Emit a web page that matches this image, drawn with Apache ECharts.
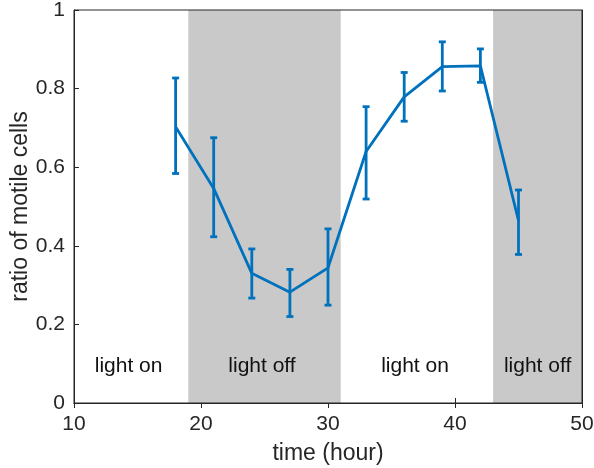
<!DOCTYPE html>
<html>
<head>
<meta charset="utf-8">
<script src="https://cdn.jsdelivr.net/npm/echarts@6/dist/echarts.min.js"></script>
<style>
  html, body { margin: 0; padding: 0; background: #fff; }
  #main { width: 594px; height: 468px; }
</style>
</head>
<body>
<div id="main"></div>
<script>
// time points (hour) and ratio of motile cells
const hours = [18, 21, 24, 27, 30, 33, 36, 39, 42, 45];
const ratio = [0.703, 0.546, 0.330, 0.282, 0.344, 0.640, 0.779, 0.856, 0.858, 0.464];
const errLow = [0.584, 0.423, 0.267, 0.220, 0.249, 0.519, 0.717, 0.794, 0.816, 0.378];
const errHigh = [0.827, 0.675, 0.392, 0.340, 0.443, 0.754, 0.841, 0.919, 0.901, 0.542];

// dark periods
const darkPeriods = [[19, 31], [43, 50]];

// period labels
const periodX = [14.3, 24.8, 36.85, 46.5];
const periodY = [0.093, 0.093, 0.093, 0.093];
const periodText = ['light on', 'light off', 'light on', 'light off'];

const xTicks = [10, 20, 30, 40, 50];
const yTicks = [0, 0.2, 0.4, 0.6, 0.8, 1];

const font = 'Liberation Sans, Arial, Helvetica, sans-serif';
const blue = '#0072BD';
const axisColor = '#262626';

const chart = echarts.init(document.getElementById('main'));

const lineData = hours.map((h, i) => [h, ratio[i]]);
const errData = hours.map((h, i) => [h, errLow[i], errHigh[i]]);
const labelData = periodX.map((x, i) => [x, periodY[i], periodText[i]]);

chart.setOption({
  animation: false,
  grid: {
    left: 74, right: 12, top: 10, bottom: 65,
    outerBoundsMode: 'none',
    containLabel: false,
    show: true, z: 5,
    backgroundColor: 'transparent',
    borderColor: axisColor, borderWidth: 1
  },
  xAxis: [{
    type: 'value',
    min: xTicks[0], max: xTicks[xTicks.length - 1], interval: 10,
    name: 'time (hour)',
    nameLocation: 'middle',
    nameGap: 39,
    nameMoveOverlap: false,
    nameTextStyle: { fontFamily: font, fontSize: 23, color: axisColor },
    axisLine: { show: true, onZero: false, lineStyle: { color: axisColor, width: 1 } },
    axisTick: { show: true, inside: true, length: 5, lineStyle: { color: axisColor } },
    axisLabel: { fontFamily: font, fontSize: 21, color: axisColor, margin: 11 },
    splitLine: { show: false }
  }, {
    type: 'value', position: 'top',
    min: xTicks[0], max: xTicks[xTicks.length - 1], interval: 10,
    axisLine: { show: true, lineStyle: { color: axisColor, width: 1 } },
    axisTick: { show: true, inside: true, length: 5, lineStyle: { color: axisColor } },
    axisLabel: { show: false },
    splitLine: { show: false }
  }],
  yAxis: [{
    type: 'value',
    min: yTicks[0], max: yTicks[yTicks.length - 1], interval: 0.2,
    name: 'ratio of motile cells',
    nameLocation: 'middle',
    nameGap: 42,
    nameMoveOverlap: false,
    nameTextStyle: { fontFamily: font, fontSize: 23, color: axisColor },
    axisLine: { show: true, lineStyle: { color: axisColor, width: 1 } },
    axisTick: { show: true, inside: true, length: 5, lineStyle: { color: axisColor } },
    axisLabel: { fontFamily: font, fontSize: 21, color: axisColor, margin: 9,
      formatter: v => (v === 0 || v === 1) ? String(v) : v.toFixed(1) },
    splitLine: { show: false }
  }, {
    type: 'value', position: 'right',
    min: 0, max: 1, interval: 0.2,
    axisLine: { show: true, lineStyle: { color: axisColor, width: 1 } },
    axisTick: { show: true, inside: true, length: 5, lineStyle: { color: axisColor } },
    axisLabel: { show: false },
    splitLine: { show: false }
  }],
  series: [
    {
      // gray background for dark periods
      type: 'line',
      data: [],
      z: 1,
      silent: true,
      markArea: {
        silent: true,
        itemStyle: { color: '#c9c9c9', opacity: 1 },
        data: darkPeriods.map(p => [{ xAxis: p[0], yAxis: 0 }, { xAxis: p[1], yAxis: 1 }])
      }
    },
    {
      type: 'scatter',
      data: labelData,
      z: 2,
      symbolSize: 0,
      silent: true,
      itemStyle: { opacity: 1 },
      label: {
        show: true,
        position: 'inside',
        formatter: p => p.data[2],
        fontFamily: font,
        fontSize: 21,
        color: '#111',
        opacity: 1
      }
    },
    {
      type: 'line',
      data: lineData,
      z: 3,
      symbol: 'none',
      lineStyle: { color: blue, width: 2.8 }
    },
    {
      type: 'custom',
      data: errData,
      z: 3,
      renderItem: function (params, api) {
        const x = api.value(0);
        const lo = api.coord([x, api.value(1)]);
        const hi = api.coord([x, api.value(2)]);
        const cap = 3.5;
        const style = { stroke: blue, lineWidth: 2.8, fill: null };
        return {
          type: 'group',
          children: [
            { type: 'line', shape: { x1: lo[0], y1: lo[1], x2: hi[0], y2: hi[1] }, style },
            { type: 'line', shape: { x1: lo[0] - cap, y1: lo[1], x2: lo[0] + cap, y2: lo[1] }, style },
            { type: 'line', shape: { x1: hi[0] - cap, y1: hi[1], x2: hi[0] + cap, y2: hi[1] }, style }
          ]
        };
      }
    }
  ]
});
</script>
</body>
</html>
